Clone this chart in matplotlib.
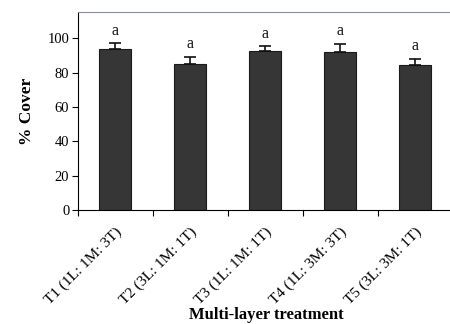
import matplotlib
matplotlib.use("Agg")
import matplotlib.pyplot as plt
import matplotlib.transforms as mtransforms
import numpy as np

categories = ["T1 (1L: 1M: 3T)", "T2 (3L: 1M: 1T)", "T3 (1L: 1M: 1T)", "T4 (1L: 3M: 3T)", "T5 (3L: 3M: 1T)"]
cover = [94.0, 85.0, 92.7, 92.3, 84.3]
err = [3.1, 4.3, 2.7, 4.6, 3.9]
letters = ["a", "a", "a", "a", "a"]
yticks = [0, 20, 40, 60, 80, 100]

plt.rcParams['font.family'] = ['Liberation Serif', 'DejaVu Serif']

fig = plt.figure(figsize=(4.5, 3.24), dpi=100)
fig.patch.set_facecolor('white')
ax = fig.add_axes([77.7/450, 1-210/324, 375/450, (210-12)/324])

x = np.arange(len(categories))
ax.bar(x, cover, width=0.42, color='#363636', edgecolor='#1a1a1a', linewidth=0.8, zorder=2)
ax.errorbar(x, cover, yerr=[np.zeros(len(err)), err], fmt='none', ecolor='#111111',
            elinewidth=1.2, capsize=4, capthick=1.2, zorder=3)
for xi, v, e, l in zip(x, cover, err, letters):
    ax.text(xi, v + e + 2.5, l, ha='center', va='bottom', fontsize=11.5, color='#111111')

ax.set_xlim(-0.5, len(categories) - 0.5)
ax.set_ylim(0, 115.4)
ax.set_yticks(yticks)
ax.set_yticklabels([str(t) for t in yticks], fontsize=10.5)
ax.set_xticks(np.arange(len(categories) + 1) - 0.5)
ax.set_xticklabels([])
ax.set_xticks(x, minor=True)
ax.set_xticklabels(categories, minor=True, rotation=45, ha='right', va='top',
                   rotation_mode='anchor', fontsize=11)
offset = mtransforms.ScaledTranslation(-5/100, 0, fig.dpi_scale_trans)
for lab in ax.get_xticklabels(minor=True):
    lab.set_transform(lab.get_transform() + offset)
ax.tick_params(axis='x', which='minor', length=0, pad=11)
ax.tick_params(axis='x', which='major', length=4, direction='out', width=0.8)
ax.tick_params(axis='y', length=4, direction='out', width=0.8, pad=2)

ax.spines['top'].set_color('#8890a8')
ax.spines['top'].set_linewidth(0.8)
ax.spines['right'].set_visible(False)
ax.spines['left'].set_linewidth(0.8)
ax.spines['bottom'].set_linewidth(0.8)

ax.set_ylabel("% Cover", fontsize=12.5, fontweight='bold', labelpad=9)
fig.text(266/450, 1-315/324, "Multi-layer treatment", ha='center', va='center',
         fontsize=12, fontweight='bold')

fig.savefig("out.png", dpi=100)
